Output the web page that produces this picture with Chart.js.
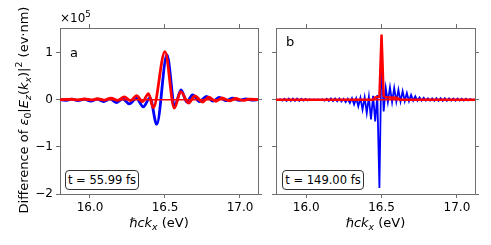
<!DOCTYPE html>
<html><head><meta charset="utf-8">
<script src="https://cdn.jsdelivr.net/npm/chart.js@4.4.1/dist/chart.umd.min.js"></script>
<style>
html,body{margin:0;padding:0;background:#fff}
body{width:491px;height:245px;position:relative;overflow:hidden;font-family:"DejaVu Sans",sans-serif;color:#000}
canvas{position:absolute;top:0}
#ca{left:0}
#cb{left:262px}
.t{position:absolute;font-size:12px;white-space:nowrap;line-height:1}
.box{position:absolute;border:1px solid #333;border-radius:4px;background:#fff;font-size:11.5px;line-height:18px;text-align:center;box-sizing:border-box;white-space:nowrap}
sub,sup{font-size:72%;line-height:0}
</style>
</head><body>
<canvas id="ca" width="262" height="245"></canvas>
<canvas id="cb" width="229" height="245"></canvas>
<div class="t" style="left:60px;top:12px">×10<sup>5</sup></div>
<div class="t" id="ylab" style="left:22.5px;top:110px;font-size:13px;transform:translate(-50%,-50%) rotate(-90deg)">Difference of <i>ε</i><sub>0</sub>|<i>E<sub>z</sub></i>(<i>k<sub>x</sub></i>)|<sup>2</sup> (ev·nm)</div>
<div class="t" style="left:159px;top:222px;font-size:13px;transform:translate(-50%,-50%)"><i>ℏck<sub>x</sub></i> (eV)</div>
<div class="t" style="left:375.5px;top:222px;font-size:13px;transform:translate(-50%,-50%)"><i>ℏck<sub>x</sub></i> (eV)</div>
<div class="t" style="left:70px;top:46px;font-size:13px">a</div>
<div class="t" style="left:286px;top:35px;font-size:13px">b</div>
<div class="box" style="left:65px;top:170px;width:74px;height:20px">t = 55.99 fs</div>
<div class="box" style="left:282px;top:170px;width:82px;height:20px">t = 149.00 fs</div>
<script>
// ---- data (values in units of 1e5 ev·nm) ----
const xTicks = [16.0, 16.5, 17.0];
const yTicks = [-2, -1, 0, 1];

const xA_blue = [15.80,15.835,15.878,15.92,15.963,16.005,16.048,16.09,16.133,16.175,16.218,16.262,16.31,16.355,16.40,16.445,16.513,16.565,16.607,16.645,16.684,16.73,16.777,16.82,16.862,16.905,16.951,16.995,17.04,17.085,17.12];
const yA_blue = [0.0,-0.015,0.01,-0.02,0.01,-0.03,0.01,-0.04,0.015,-0.06,0.02,-0.09,0.03,-0.15,0.04,-0.52,0.95,-0.12,0.21,-0.05,0.10,-0.04,0.07,-0.03,0.05,-0.02,0.03,-0.015,0.015,-0.01,0.0];

const xA_red = [15.80,15.84,15.88,15.92,15.965,16.01,16.05,16.095,16.14,16.185,16.229,16.27,16.311,16.35,16.39,16.422,16.50,16.562,16.605,16.657,16.70,16.75,16.79,16.84,16.88,16.93,16.97,17.02,17.06,17.12];
const yA_red = [0.0,0.005,0.01,-0.005,0.015,-0.005,0.02,-0.01,0.035,-0.015,0.06,-0.02,0.085,-0.04,0.13,-0.17,1.02,-0.18,0.17,-0.07,0.08,-0.05,0.055,-0.035,0.04,-0.025,0.025,-0.015,0.01,0.0];

const xB_blue = [15.800,15.814,15.828,15.842,15.856,15.870,15.884,15.898,15.912,15.926,15.940,15.954,15.968,15.982,15.996,16.010,16.024,16.038,16.052,16.066,16.080,16.094,16.108,16.122,16.136,16.150,16.164,16.178,16.192,16.206,16.220,16.234,16.248,16.262,16.276,16.290,16.304,16.318,16.332,16.346,16.360,16.374,16.388,16.402,16.416,16.430,16.444,16.458,16.472,16.486,16.500,16.514,16.528,16.542,16.556,16.570,16.584,16.598,16.612,16.626,16.640,16.654,16.668,16.682,16.696,16.710,16.724,16.738,16.752,16.766,16.780,16.794,16.808,16.822,16.836,16.850,16.864,16.878,16.892,16.906,16.920,16.934,16.948,16.962,16.976,16.990,17.004,17.018,17.032,17.046,17.060,17.074,17.088,17.102,17.116];
const yB_blue = [0.0,-0.01,0.01,-0.02,0.02,-0.025,0.025,-0.025,0.025,-0.025,0.025,-0.025,0.02,-0.02,0.015,-0.015,0.01,-0.008,0.005,-0.005,0.005,-0.01,0.01,-0.02,0.02,-0.025,0.025,-0.03,0.025,-0.035,0.025,-0.04,0.02,-0.05,0.02,-0.07,0.03,-0.10,0.03,-0.14,0.04,-0.21,0.05,-0.28,0.06,-0.42,0.08,-0.46,0.10,-1.87,1.00,-0.25,0.25,-0.05,0.26,-0.05,0.25,-0.04,0.21,-0.04,0.18,-0.03,0.14,-0.03,0.10,-0.02,0.07,-0.02,0.05,-0.02,0.04,-0.02,0.03,-0.02,0.03,-0.025,0.03,-0.025,0.03,-0.025,0.03,-0.025,0.03,-0.02,0.025,-0.02,0.025,-0.02,0.02,-0.02,0.02,-0.015,0.015,-0.01,0.01];

const xB_red = [15.80,16.444,16.458,16.486,16.500,16.514,16.528,16.60,16.625,17.12];
const yB_red = [0.0,0.0,0.05,0.06,1.38,0.08,0.05,0.04,0.0,0.0];

const xZero = [15.80, 17.12];
const yZero = [0, 0];

// ---- helpers ----
const pts = (xs, ys) => xs.map((x, i) => ({x: x, y: ys[i]}));
const AX = '#6e6e6e';
const FONT = {family: 'DejaVu Sans', size: 12};

function axis(pos, isX, showLabels, size, ticksArr, fmt) {
  return {
    type: 'linear', position: pos,
    min: isX ? 15.8 : -2, max: isX ? 17.12 : 1.52,
    afterBuildTicks: s => { s.ticks = ticksArr.map(v => ({value: v})); },
    afterFit: s => { if (isX) s.height = size; else s.width = size; },
    grid: {drawOnChartArea: false, drawTicks: true, tickLength: 4, color: AX, lineWidth: 1},
    border: {display: true, color: AX, width: 1},
    ticks: {display: showLabels, font: FONT, color: '#000', padding: 3, maxRotation: 0, callback: fmt}
  };
}
const fmtX = v => v.toFixed(1);
const fmtY = v => (v < 0 ? '\u2212' + Math.abs(v) : String(v));

function make(id, datasets, dims, yLabels) {
  new Chart(document.getElementById(id), {
    type: 'line',
    data: {datasets: datasets},
    options: {
      responsive: false, animation: false, devicePixelRatio: 1,
      layout: {padding: 0},
      plugins: {legend: {display: false}, tooltip: {enabled: false}},
      elements: {point: {radius: 0}},
      scales: {
        x: axis('bottom', true, true, dims.bottom, xTicks, fmtX),
        x2: axis('top', true, false, dims.top, xTicks, fmtX),
        y: axis('left', false, yLabels, dims.left, yTicks, fmtY),
        y2: axis('right', false, false, dims.right, yTicks, fmtY)
      }
    }
  });
}

make('ca', [
  {data: pts(xA_red, yA_red), borderColor: '#ff0000', borderWidth: 2.8, cubicInterpolationMode: 'monotone', order: 0},
  {data: pts(xZero, yZero), borderColor: '#ff0000', borderWidth: 1.5, order: 1},
  {data: pts(xA_blue, yA_blue), borderColor: '#0000ff', borderWidth: 2.8, cubicInterpolationMode: 'monotone', order: 2}
], {left: 60, right: 4, top: 28, bottom: 51}, true);

make('cb', [
  {data: pts(xB_red, yB_red), borderColor: '#ff0000', borderWidth: 2.5, order: 0},
  {data: pts(xZero, yZero), borderColor: '#ff0000', borderWidth: 1.5, order: 1},
  {data: pts(xB_blue, yB_blue), borderColor: '#0000ff', borderWidth: 1.8, order: 2}
], {left: 14, right: 16, top: 28, bottom: 51}, false);
</script>
</body></html>
